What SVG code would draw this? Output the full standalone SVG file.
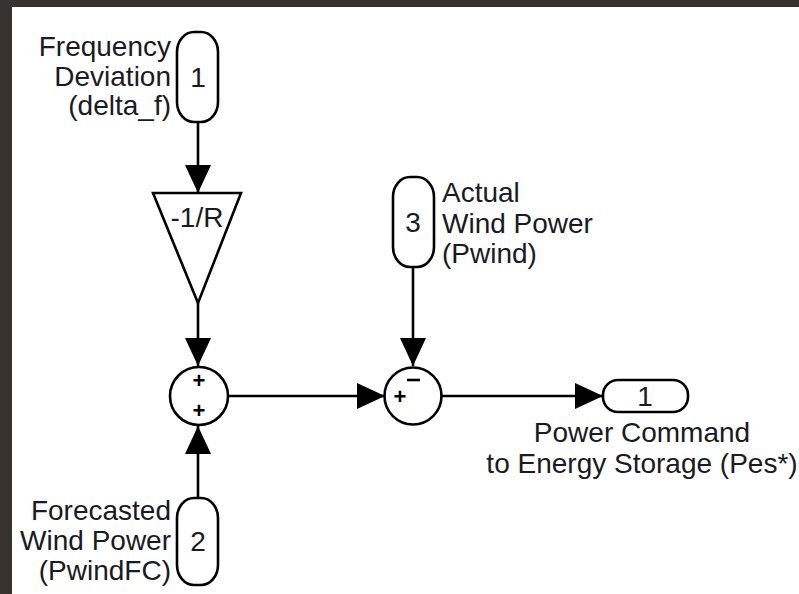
<svg xmlns="http://www.w3.org/2000/svg" width="799" height="594" viewBox="0 0 799 594">
<defs>
<style>
.blk{fill:#fff;stroke:#000;stroke-width:2.6}
.ln{fill:none;stroke:#000;stroke-width:2.6}
.t{font-family:"Liberation Sans",Arial,sans-serif;font-size:28px;fill:#1a1a24}
.r{text-anchor:end}
.m{text-anchor:middle}
.sg{font-family:"Liberation Sans",Arial,sans-serif;font-size:22px;font-weight:bold;fill:#000;text-anchor:middle}
</style>
<marker id="ah" markerUnits="userSpaceOnUse" markerWidth="29" markerHeight="27" refX="28" refY="13" orient="auto" viewBox="0 0 29 27">
<path d="M0,0 L28,13 L0,26 z" fill="#000"/>
</marker>
</defs>
<rect x="0" y="0" width="799" height="594" fill="#fff"/>
<rect x="0" y="0" width="799" height="7" fill="#38332e"/>
<rect x="0" y="0" width="12" height="594" fill="#38332e"/>

<g id="connectors">
<line class="ln" x1="198" y1="122" x2="198" y2="193" marker-end="url(#ah)"/>
<line class="ln" x1="198" y1="303" x2="198" y2="366" marker-end="url(#ah)"/>
<line class="ln" x1="198" y1="498" x2="198" y2="426" marker-end="url(#ah)"/>
<line class="ln" x1="228" y1="396" x2="385" y2="396" marker-end="url(#ah)"/>
<line class="ln" x1="413" y1="267" x2="413" y2="366" marker-end="url(#ah)"/>
<line class="ln" x1="442" y1="396" x2="603" y2="396" marker-end="url(#ah)"/>
</g>

<g id="in1">
<rect class="blk" x="177" y="32" width="41" height="90" rx="17" ry="20"/>
<text class="t m" x="198" y="87">1</text>
<text class="t r" x="171" y="56">Frequency</text>
<text class="t r" x="171" y="86">Deviation</text>
<text class="t r" x="171" y="115">(delta_f)</text>
</g>

<g id="gain">
<polygon class="blk" points="153,193 241,193 198,303"/>
<text class="t m" x="197" y="227">-1/R</text>
</g>

<g id="in3">
<rect class="blk" x="393" y="177" width="41" height="90" rx="17" ry="20"/>
<text class="t m" x="413" y="232">3</text>
<text class="t" x="442" y="202">Actual</text>
<text class="t" x="442" y="233">Wind Power</text>
<text class="t" x="442" y="263">(Pwind)</text>
</g>

<g id="sum1">
<circle class="blk" cx="199" cy="396" r="29"/>
<text class="sg" x="199" y="388">+</text>
<text class="sg" x="199" y="418">+</text>
</g>

<g id="sum2">
<circle class="blk" cx="413" cy="396" r="28.5"/>
<text class="sg" x="400" y="404">+</text>
<line x1="407" y1="380" x2="420" y2="380" stroke="#000" stroke-width="2.6"/>
</g>

<g id="in2">
<rect class="blk" x="177" y="498" width="41" height="87" rx="17" ry="20"/>
<text class="t m" x="198" y="551">2</text>
<text class="t r" x="171" y="520">Forecasted</text>
<text class="t r" x="171" y="550">Wind Power</text>
<text class="t r" x="171" y="580">(PwindFC)</text>
</g>

<g id="out1">
<rect class="blk" x="603" y="380" width="85" height="32" rx="15" ry="15"/>
<text class="t m" x="645" y="406">1</text>
<text class="t m" x="642" y="442">Power Command</text>
<text class="t m" x="642" y="473">to Energy Storage (Pes*)</text>
</g>
</svg>
